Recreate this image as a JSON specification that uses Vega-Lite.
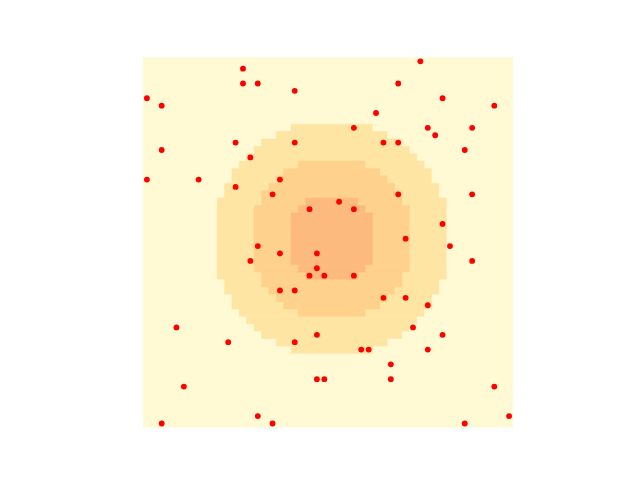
{
  "$schema": "https://vega.github.io/schema/vega-lite/v6.json",
  "autosize": "none",
  "width": 369.6,
  "height": 369.6,
  "padding": {"left": 143.2, "top": 57.6, "right": 127.2, "bottom": 52.8},
  "background": "white",
  "config": {"view": {"stroke": null}},
  "datasets": {
    "bands": [
      {"lvl": "0", "c0": -0.5, "c1": 49.5, "r0": -0.5, "r1": 49.5},
      {"lvl": "1", "c0": 19.5, "c1": 30.5, "r0": 8.5, "r1": 9.5},
      {"lvl": "1", "c0": 17.5, "c1": 32.5, "r0": 9.5, "r1": 10.5},
      {"lvl": "1", "c0": 15.5, "c1": 34.5, "r0": 10.5, "r1": 11.5},
      {"lvl": "1", "c0": 14.5, "c1": 35.5, "r0": 11.5, "r1": 12.5},
      {"lvl": "1", "c0": 13.5, "c1": 36.5, "r0": 12.5, "r1": 13.5},
      {"lvl": "1", "c0": 12.5, "c1": 37.5, "r0": 13.5, "r1": 14.5},
      {"lvl": "1", "c0": 11.5, "c1": 38.5, "r0": 14.5, "r1": 16.5},
      {"lvl": "1", "c0": 10.5, "c1": 39.5, "r0": 16.5, "r1": 18.5},
      {"lvl": "1", "c0": 9.5, "c1": 40.5, "r0": 18.5, "r1": 29.5},
      {"lvl": "1", "c0": 10.5, "c1": 39.5, "r0": 29.5, "r1": 31.5},
      {"lvl": "1", "c0": 11.5, "c1": 38.5, "r0": 31.5, "r1": 33.5},
      {"lvl": "1", "c0": 12.5, "c1": 37.5, "r0": 33.5, "r1": 34.5},
      {"lvl": "1", "c0": 13.5, "c1": 36.5, "r0": 34.5, "r1": 35.5},
      {"lvl": "1", "c0": 14.5, "c1": 35.5, "r0": 35.5, "r1": 36.5},
      {"lvl": "1", "c0": 15.5, "c1": 34.5, "r0": 36.5, "r1": 37.5},
      {"lvl": "1", "c0": 17.5, "c1": 32.5, "r0": 37.5, "r1": 38.5},
      {"lvl": "1", "c0": 19.5, "c1": 30.5, "r0": 38.5, "r1": 39.5},
      {"lvl": "2", "c0": 20.5, "c1": 29.5, "r0": 13.5, "r1": 14.5},
      {"lvl": "2", "c0": 18.5, "c1": 31.5, "r0": 14.5, "r1": 15.5},
      {"lvl": "2", "c0": 17.5, "c1": 32.5, "r0": 15.5, "r1": 16.5},
      {"lvl": "2", "c0": 16.5, "c1": 33.5, "r0": 16.5, "r1": 17.5},
      {"lvl": "2", "c0": 15.5, "c1": 34.5, "r0": 17.5, "r1": 19.5},
      {"lvl": "2", "c0": 14.5, "c1": 35.5, "r0": 19.5, "r1": 28.5},
      {"lvl": "2", "c0": 15.5, "c1": 34.5, "r0": 28.5, "r1": 30.5},
      {"lvl": "2", "c0": 16.5, "c1": 33.5, "r0": 30.5, "r1": 31.5},
      {"lvl": "2", "c0": 17.5, "c1": 32.5, "r0": 31.5, "r1": 32.5},
      {"lvl": "2", "c0": 18.5, "c1": 31.5, "r0": 32.5, "r1": 33.5},
      {"lvl": "2", "c0": 20.5, "c1": 29.5, "r0": 33.5, "r1": 34.5},
      {"lvl": "3", "c0": 21.5, "c1": 28.5, "r0": 18.5, "r1": 19.5},
      {"lvl": "3", "c0": 20.5, "c1": 29.5, "r0": 19.5, "r1": 20.5},
      {"lvl": "3", "c0": 19.5, "c1": 30.5, "r0": 20.5, "r1": 27.5},
      {"lvl": "3", "c0": 20.5, "c1": 29.5, "r0": 27.5, "r1": 28.5},
      {"lvl": "3", "c0": 21.5, "c1": 28.5, "r0": 28.5, "r1": 29.5}
    ],
    "pts": [
      {"c": 13, "r": 1}, {"c": 37, "r": 0}, {"c": 13, "r": 3}, {"c": 15, "r": 3},
      {"c": 34, "r": 3}, {"c": 0, "r": 5}, {"c": 2, "r": 6}, {"c": 20, "r": 4},
      {"c": 40, "r": 5}, {"c": 47, "r": 6}, {"c": 31, "r": 7}, {"c": 28, "r": 9},
      {"c": 38, "r": 9}, {"c": 44, "r": 9}, {"c": 39, "r": 10}, {"c": 12, "r": 11},
      {"c": 20, "r": 11}, {"c": 32, "r": 11}, {"c": 34, "r": 11}, {"c": 2, "r": 12},
      {"c": 43, "r": 12}, {"c": 14, "r": 13}, {"c": 18, "r": 16}, {"c": 0, "r": 16},
      {"c": 7, "r": 16}, {"c": 12, "r": 17}, {"c": 17, "r": 18}, {"c": 34, "r": 18},
      {"c": 44, "r": 18}, {"c": 26, "r": 19}, {"c": 22, "r": 20}, {"c": 28, "r": 20},
      {"c": 40, "r": 22}, {"c": 35, "r": 24}, {"c": 15, "r": 25}, {"c": 41, "r": 25},
      {"c": 23, "r": 26}, {"c": 18, "r": 26}, {"c": 14, "r": 27}, {"c": 44, "r": 27},
      {"c": 23, "r": 28}, {"c": 22, "r": 29}, {"c": 24, "r": 29}, {"c": 28, "r": 29},
      {"c": 18, "r": 31}, {"c": 20, "r": 31}, {"c": 32, "r": 32}, {"c": 35, "r": 32},
      {"c": 38, "r": 33}, {"c": 4, "r": 36}, {"c": 36, "r": 36}, {"c": 23, "r": 37},
      {"c": 40, "r": 37}, {"c": 11, "r": 38}, {"c": 20, "r": 38}, {"c": 29, "r": 39},
      {"c": 30, "r": 39}, {"c": 38, "r": 39}, {"c": 33, "r": 41}, {"c": 23, "r": 43},
      {"c": 24, "r": 43}, {"c": 33, "r": 43}, {"c": 5, "r": 44}, {"c": 47, "r": 44},
      {"c": 15, "r": 48}, {"c": 49, "r": 48}, {"c": 2, "r": 49}, {"c": 17, "r": 49},
      {"c": 43, "r": 49}
    ]
  },
  "layer": [
    {
      "data": {"name": "bands"},
      "mark": {"type": "rect", "strokeWidth": 0.5},
      "encoding": {
        "x": {"field": "c0", "type": "quantitative", "scale": {"domain": [-0.5, 49.5], "nice": false, "zero": false}, "axis": null},
        "x2": {"field": "c1"},
        "y": {"field": "r0", "type": "quantitative", "scale": {"domain": [-0.5, 49.5], "nice": false, "zero": false, "reverse": true}, "axis": null},
        "y2": {"field": "r1"},
        "fill": {"field": "lvl", "type": "nominal", "scale": {"domain": ["0", "1", "2", "3"], "range": ["#fff9d4", "#fee5a4", "#fed18c", "#fdba7e"]}, "legend": null},
        "stroke": {"field": "lvl", "type": "nominal", "scale": {"domain": ["0", "1", "2", "3"], "range": ["#fff9d4", "#fee5a4", "#fed18c", "#fdba7e"]}, "legend": null}
      }
    },
    {
      "data": {"name": "pts"},
      "mark": {"type": "circle", "size": 34, "color": "#ff0000", "opacity": 1},
      "encoding": {
        "x": {"field": "c", "type": "quantitative"},
        "y": {"field": "r", "type": "quantitative"}
      }
    }
  ]
}
